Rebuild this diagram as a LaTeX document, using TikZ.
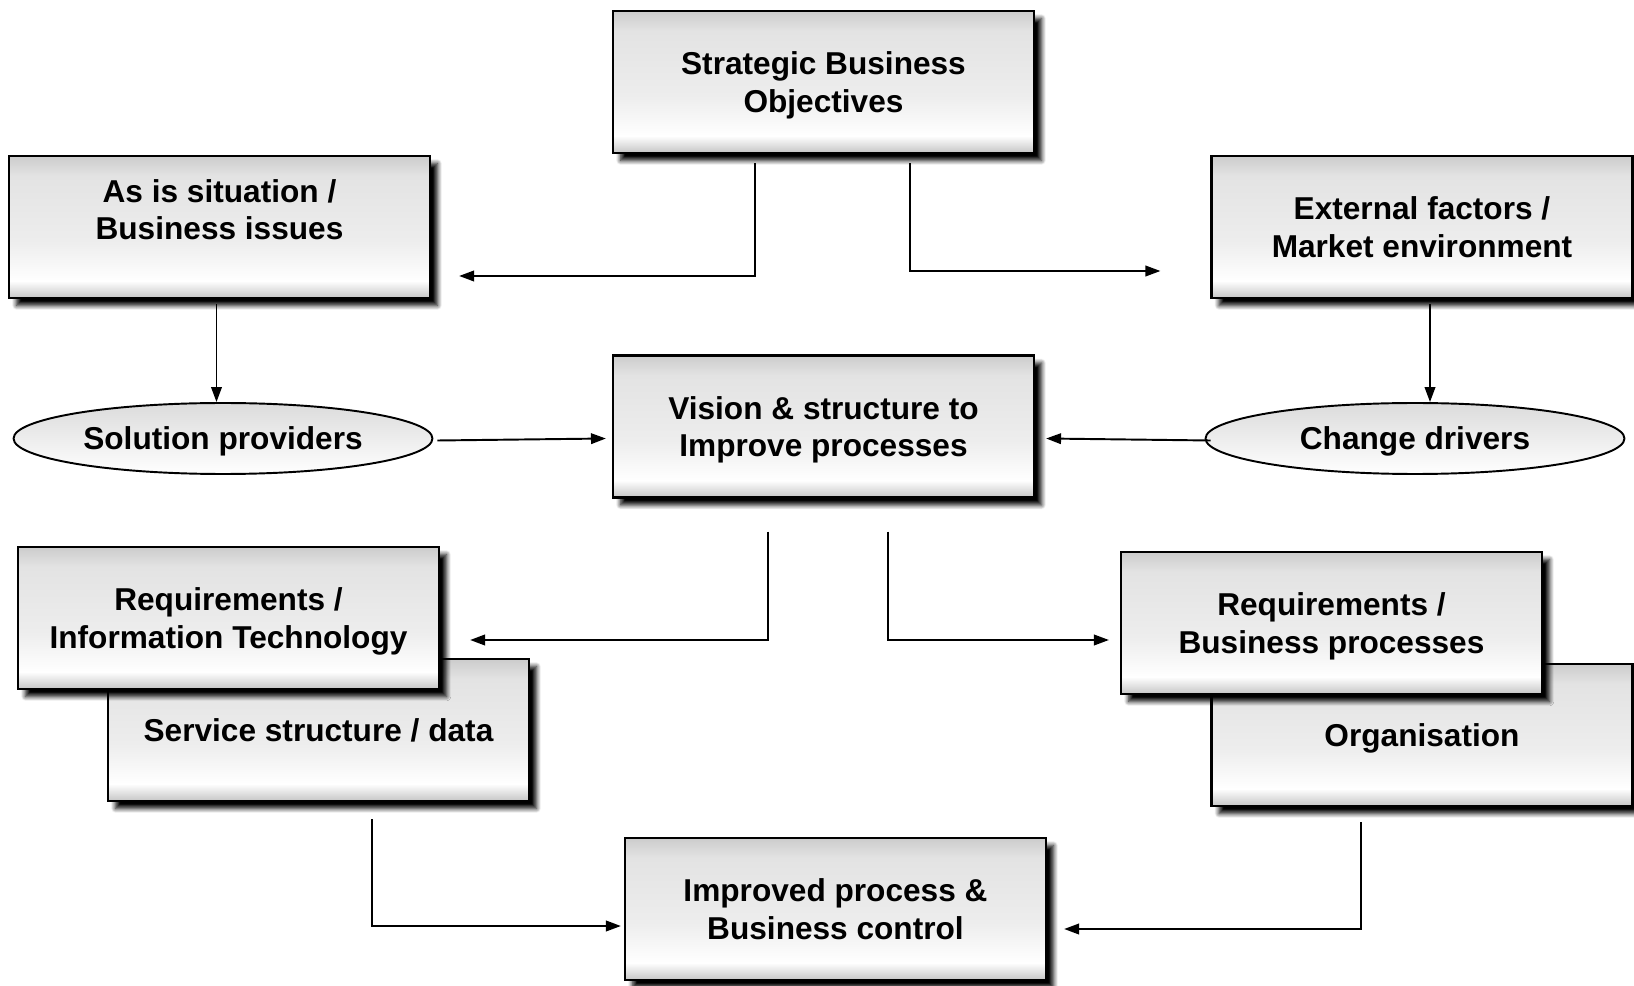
\documentclass[tikz,border=0pt]{standalone}
\usepackage{fontspec}
\setmainfont{Liberation Sans}
\usepackage{tikz}
\usetikzlibrary{positioning}
\usetikzlibrary{arrows.meta}
\usetikzlibrary{shapes.geometric}
\usetikzlibrary{shadows.blur}

\pgfdeclareverticalshading{boxshade}{100bp}{color(0bp)=(gray!45); color(25bp)=(gray!45); color(31bp)=(white); color(45bp)=(gray!14); color(68bp)=(gray!22); color(75bp)=(gray!40); color(100bp)=(gray!40)}

\begin{document}
\begin{tikzpicture}[x=0.02cm, y=-0.02cm,
        procbox/.style={draw=black, line width=1.3pt, shading=boxshade,
            minimum width=8.42cm, minimum height=2.84cm, inner sep=0pt,
            align=center, text depth=0pt,
            font=\bfseries\fontsize{18}{21.3}\selectfont,
            blur shadow={shadow xshift=0.15cm, shadow yshift=-0.15cm,
                shadow blur radius=0.09cm, shadow blur steps=8,
                shadow opacity=100}},
        drivershape/.style={ellipse, draw=black, line width=1.1pt,
            top color=gray!28, bottom color=white, text depth=0pt,
            minimum width=8.38cm, minimum height=1.42cm, inner sep=0pt,
            font=\bfseries\fontsize{18}{21.3}\selectfont},
        conn/.style={line width=1.1pt, -{Triangle[length=8.5pt, width=6pt]}}]
        \useasboundingbox (0,0) rectangle (1634,986);

        % top row
        \node[procbox] (strat) at (823.5,82) {Strategic Business\\Objectives};
        \node[procbox, text depth=0.7cm] (asis) at (219.5,227) {As is situation /\\Business issues};
        \node[procbox] (ext) at (1422,227) {External factors /\\Market environment};

        % middle row
        \node[procbox] (vis) at (823.5,426.5) {Vision \& structure to\\Improve processes};
        \node[drivershape] (sol) at (223,438.5) {Solution providers};
        \node[drivershape] (chg) at (1415,438.5) {Change drivers};

        % stacked boxes
        \node[procbox] (serv) at (318.5,730) {Service structure / data};
        \node[procbox] (reqit) at (228.5,618) {Requirements /\\Information Technology};
        \node[procbox] (org) at (1422,735) {Organisation};
        \node[procbox] (reqbp) at (1331.5,623) {Requirements /\\Business processes};

        \node[procbox] (impr) at (835.5,909) {Improved process \&\\Business control};

        % connectors
        \draw[conn] ([shift={(-68.5,9)}]strat.south) |- ([shift={(28,49)}]asis.east);
        \draw[conn] ([shift={(86.5,9)}]strat.south) |- ([shift={(-50,44)}]ext.west);

        \draw[conn] ([shift={(-3,5)}]asis.south) -- ([shift={(-3,0)}]asis.south |- sol.north);
        \draw[conn] ([shift={(8,5)}]ext.south) -- ([shift={(8,0)}]ext.south |- chg.north);

        \draw[conn] ([shift={(4,2)}]sol.east) -- ([shift={(-6,0)}]vis.west |- sol.east);
        \draw[conn] ([shift={(6,2)}]chg.west) -- ([shift={(11,0)}]vis.east |- chg.west);

        \draw[conn] ([shift={(-55.5,33)}]vis.south) |- ([shift={(30,22)}]reqit.east);
        \draw[conn] ([shift={(64.5,33)}]vis.south) |- ([shift={(-11,17)}]reqbp.west);

        \draw[conn] ([shift={(53.5,17)}]serv.south) |- ([shift={(-3,17)}]impr.west);
        \draw[conn] ([shift={(-61,15)}]org.south) |- ([shift={(17,20)}]impr.east);
\end{tikzpicture}
\end{document}
